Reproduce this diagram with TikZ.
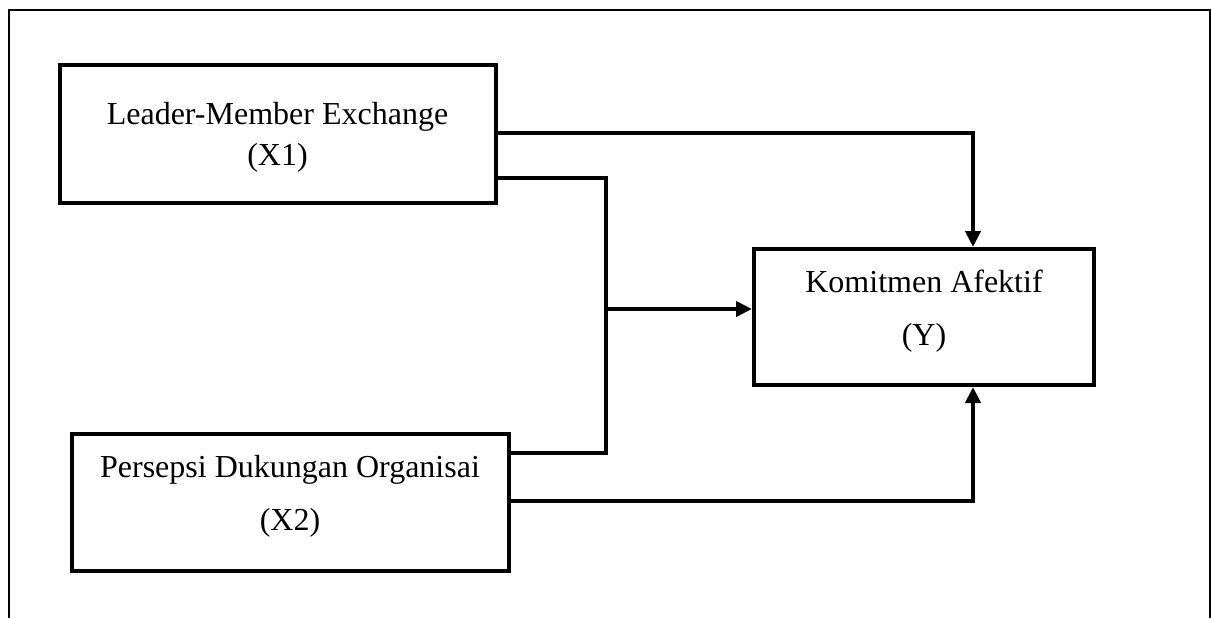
\documentclass[tikz,border=0pt]{standalone}
\usepackage{fontspec}
\setmainfont{Liberation Serif}
\usetikzlibrary{arrows.meta}
\begin{document}
\begin{tikzpicture}[x=0.5pt,y=-0.5pt,
  box/.style={draw,line width=2pt,inner sep=0pt},
  txt/.style={anchor=base,inner sep=0pt,font=\fontsize{16}{19}\selectfont},
  conn/.style={line width=2pt,line join=miter},
  arr/.style={conn,-{Triangle[length=8pt,width=7.5pt]}},
  frame/.style={line width=1pt}]
\useasboundingbox (0,0) rectangle (1211,618);
% open frame
\draw[frame] (9,618) -- (9,10) -- (1210,10) -- (1210,618);
% boxes
\node[box,minimum width=218pt,minimum height=69pt] (x1) at (278,134) {};
\node[box,minimum width=218.5pt,minimum height=68.5pt] (x2) at (290.5,502.5) {};
\node[box,minimum width=170pt,minimum height=68pt] (y) at (924,317) {};
% texts
\node[txt] (t1a) at (277.5,124) {Leader-Member Exchange};
\node[txt] (t1b) at (277.5,165) {(X1)};
\node[txt] (t2a) at (290,477) {Persepsi Dukungan Organisai};
\node[txt] (t2b) at (290,530) {(X2)};
\node[txt] (tya) at (924,292) {Komitmen Afektif};
\node[txt] (tyb) at (924,345) {(Y)};
% junction coordinates
\coordinate (ax) at (973,0);
\coordinate (j1) at (606,178);
\coordinate (j2) at (606,453);
\coordinate (j3) at (605,453);
\coordinate (jm) at (606,309);
% connectors
\draw[arr] (x1.east |- 0,133) -| (ax |- y.north);
\draw[conn] (x1.east |- j1) -- (j1) -- (j2) -- ([xshift=-2pt]x2.east |- j2);
\draw[arr] (jm) -- (y.west |- jm);
\draw[arr] (x2.east |- 0,501) -| (ax |- y.south);
\end{tikzpicture}
\end{document}
